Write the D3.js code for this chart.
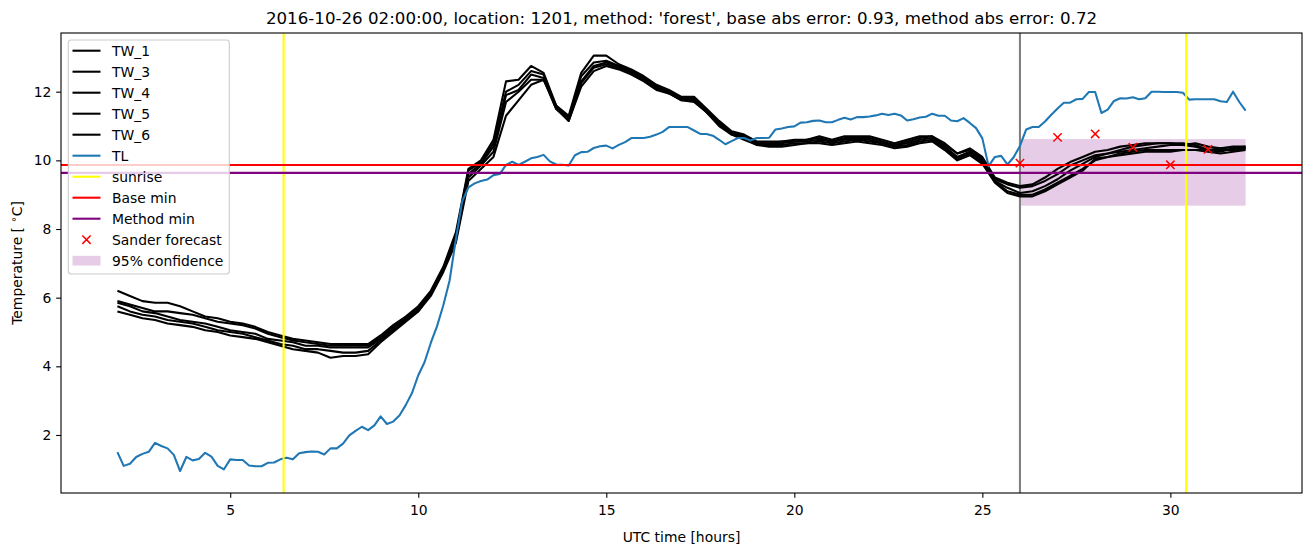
<!DOCTYPE html>
<html><head><meta charset="utf-8">
<script src="https://cdn.jsdelivr.net/npm/d3@7"></script>
<style>body{margin:0;background:#fff} text{font-family:"DejaVu Sans",sans-serif}</style>
</head><body><svg id="c" width="1310" height="547"></svg>
<script>
// ---------- data ----------
const tlStepMinutes = 10;   // TL sampled every 10 min from 02:00
const twStepMinutes = 20;   // TW series sampled every 20 min from 02:00
const startHour = 2;
const tlValues = [
1.5,1.1,1.16,1.36,1.45,1.51,1.77,1.68,1.61,1.42,
0.95,1.36,1.26,1.3,1.48,1.37,1.1,1.0,1.29,1.27,
1.27,1.11,1.09,1.09,1.19,1.2,1.29,1.34,1.29,1.47,
1.5,1.52,1.51,1.43,1.61,1.61,1.75,1.99,2.12,2.24,
2.14,2.28,2.54,2.32,2.39,2.57,2.87,3.22,3.74,4.12,
4.68,5.17,5.78,6.5,7.7,8.8,9.21,9.33,9.4,9.44,
9.57,9.6,9.87,9.96,9.87,9.96,10.06,10.1,10.16,9.97,
9.88,9.87,9.85,10.15,10.24,10.25,10.36,10.41,10.43,10.35,
10.45,10.53,10.65,10.65,10.65,10.69,10.75,10.83,10.97,10.97,
10.97,10.97,10.87,10.77,10.77,10.72,10.6,10.47,10.56,10.65,
10.65,10.58,10.65,10.65,10.66,10.9,10.93,10.97,10.99,11.1,
11.11,11.15,11.16,11.11,11.11,11.18,11.24,11.19,11.26,11.26,
11.28,11.31,11.36,11.32,11.36,11.31,11.16,11.2,11.25,11.27,
11.36,11.3,11.3,11.16,11.14,11.23,11.09,10.94,10.64,9.83,
10.1,10.13,9.88,10.09,10.42,10.9,10.97,10.97,11.13,11.33,
11.51,11.68,11.68,11.78,11.79,11.99,11.99,11.38,11.48,11.73,
11.81,11.8,11.84,11.78,11.81,12.0,12.0,11.99,11.99,11.99,
11.97,11.77,11.78,11.78,11.78,11.78,11.72,11.7,12.0,11.7,11.45];
const tw1 = [
6.2,6.05,5.9,5.85,5.85,5.75,5.6,5.45,5.4,5.3,
5.25,5.15,5.0,4.9,4.8,4.75,4.7,4.65,4.65,4.65,
4.65,4.9,5.2,5.45,5.75,6.2,6.9,7.9,9.75,10.0,
10.6,12.3,12.35,12.75,12.55,11.6,11.3,12.55,13.05,13.05,
12.8,12.65,12.45,12.2,12.05,11.85,11.85,11.5,11.15,10.85,
10.75,10.55,10.55,10.55,10.6,10.6,10.7,10.6,10.7,10.7,
10.7,10.6,10.5,10.6,10.7,10.7,10.5,10.2,10.35,10.1,
9.5,9.35,9.25,9.3,9.5,9.75,9.95,10.1,10.25,10.3,
10.4,10.45,10.5,10.5,10.5,10.5,10.45,10.3,10.25,10.35,10.4];
const tw3 = [
5.9,5.8,5.7,5.6,5.6,5.55,5.5,5.4,5.3,5.25,
5.2,5.1,4.95,4.85,4.75,4.7,4.65,4.6,4.6,4.6,
4.6,4.85,5.15,5.4,5.7,6.15,6.85,7.8,9.7,9.95,
10.5,12.0,12.2,12.6,12.5,11.55,11.25,12.45,12.85,12.9,
12.75,12.6,12.4,12.15,12.0,11.8,11.8,11.45,11.1,10.8,
10.7,10.5,10.5,10.55,10.55,10.6,10.65,10.55,10.65,10.65,
10.65,10.55,10.45,10.55,10.65,10.7,10.45,10.2,10.3,10.05,
9.45,9.3,9.2,9.25,9.4,9.6,9.85,10.0,10.15,10.2,
10.3,10.4,10.45,10.5,10.5,10.45,10.5,10.4,10.35,10.4,10.4];
const tw4 = [
5.85,5.75,5.6,5.55,5.45,5.35,5.3,5.25,5.15,5.05,
5.0,4.95,4.8,4.75,4.7,4.6,4.6,4.55,4.55,4.55,
4.55,4.8,5.1,5.4,5.65,6.1,6.85,7.75,9.6,9.9,
10.4,11.9,12.05,12.5,12.4,11.5,11.2,12.3,12.75,12.85,
12.75,12.6,12.4,12.1,12.0,11.8,11.75,11.45,11.1,10.8,
10.7,10.5,10.5,10.5,10.55,10.55,10.6,10.55,10.6,10.6,
10.6,10.5,10.45,10.5,10.6,10.65,10.4,10.1,10.25,10.0,
9.4,9.2,9.05,9.1,9.25,9.45,9.7,9.9,10.1,10.2,
10.25,10.3,10.35,10.4,10.45,10.45,10.4,10.3,10.35,10.3,10.35];
const tw5 = [
5.75,5.6,5.5,5.45,5.35,5.3,5.25,5.15,5.05,5.0,
4.95,4.85,4.75,4.65,4.6,4.5,4.5,4.45,4.4,4.4,
4.45,4.75,5.05,5.35,5.6,6.1,6.8,7.7,9.5,9.85,
10.25,11.7,12.0,12.35,12.35,11.5,11.15,12.25,12.7,12.8,
12.7,12.55,12.35,12.1,11.95,11.75,11.75,11.4,11.05,10.75,
10.65,10.45,10.45,10.45,10.5,10.5,10.55,10.5,10.55,10.6,
10.55,10.5,10.4,10.45,10.55,10.6,10.35,10.05,10.2,9.95,
9.4,9.1,9.0,9.0,9.15,9.35,9.55,9.75,10.0,10.1,
10.2,10.25,10.3,10.3,10.3,10.3,10.3,10.3,10.3,10.3,10.35];
const tw6 = [
5.6,5.5,5.4,5.35,5.25,5.2,5.15,5.05,5.0,4.9,
4.85,4.8,4.7,4.6,4.5,4.45,4.4,4.25,4.3,4.3,
4.35,4.7,5.0,5.3,5.6,6.05,6.75,7.6,9.4,9.75,
10.1,11.3,11.75,12.2,12.35,11.6,11.15,12.15,12.6,12.75,
12.65,12.5,12.3,12.05,11.95,11.75,11.7,11.4,11.0,10.75,
10.6,10.45,10.4,10.4,10.45,10.5,10.5,10.45,10.5,10.55,
10.5,10.45,10.35,10.4,10.5,10.55,10.3,10.0,10.15,9.9,
9.35,9.05,8.95,8.95,9.1,9.3,9.5,9.7,10.05,10.1,
10.15,10.2,10.25,10.25,10.25,10.3,10.3,10.25,10.2,10.25,10.3];
const twNames = ["TW_1","TW_3","TW_4","TW_5","TW_6"];
const forecastHours = [26,27,28,29,30,31];
const forecastValues = [9.92,10.67,10.77,10.38,9.87,10.32];
const sunriseHours = [6.42,30.42];
const forecastStartHour = 26;
const baseMin = 9.866;
const methodMin = 9.635;
const confLow = 8.68, confHigh = 10.62, confStart = 26, confEnd = 32;
const xTicks = [5,10,15,20,25,30];
const yTicks = [2,4,6,8,10,12];
const xDomain = [0.5,33.5];
const yDomain = [0.31,13.71];
const titleText = "2016-10-26 02:00:00, location: 1201, method: 'forest', base abs error: 0.93, method abs error: 0.72";

// ---------- layout ----------
const svg = d3.select("#c");
const L = 61, R = 1302, T = 33, B = 493;
const x = d3.scaleLinear().domain(xDomain).range([L, R]);
const y = d3.scaleLinear().domain(yDomain).range([B, T]);
const tlHours = tlValues.map((_, k) => startHour + k * tlStepMinutes / 60);
const twHours = tw1.map((_, i) => startHour + i * twStepMinutes / 60);
const LW = 2.08;

svg.append("rect").attr("width",1310).attr("height",547).attr("fill","#fff");
svg.append("clipPath").attr("id","clip").append("rect")
  .attr("x",L).attr("y",T).attr("width",R-L).attr("height",B-T);
const g = svg.append("g").attr("clip-path","url(#clip)");

// confidence band (lowest zorder)
g.append("rect").attr("x",x(confStart)).attr("width",x(confEnd)-x(confStart))
  .attr("y",y(confHigh)).attr("height",y(confLow)-y(confHigh))
  .attr("fill","purple").attr("fill-opacity",0.2);

// forecast start
g.append("line").attr("x1",x(forecastStartHour)).attr("x2",x(forecastStartHour))
  .attr("y1",T).attr("y2",B).attr("stroke","grey").attr("stroke-width",LW);

const line = d3.line().x(d=>x(d[0])).y(d=>y(d[1]));
[tw1,tw3,tw4,tw5,tw6].forEach(s=>{
  g.append("path").attr("d", line(s.map((v,i)=>[twHours[i],v])))
   .attr("fill","none").attr("stroke","#000").attr("stroke-width",LW).attr("stroke-linejoin","round");
});
g.append("path").attr("d", line(tlValues.map((v,k)=>[tlHours[k],v])))
  .attr("fill","none").attr("stroke","#1f77b4").attr("stroke-width",LW).attr("stroke-linejoin","round");

sunriseHours.forEach(h=>{
  g.append("line").attr("x1",x(h)).attr("x2",x(h)).attr("y1",T).attr("y2",B)
   .attr("stroke","yellow").attr("stroke-width",LW);
});
g.append("line").attr("x1",L).attr("x2",R).attr("y1",y(baseMin)).attr("y2",y(baseMin))
  .attr("stroke","red").attr("stroke-width",LW);
g.append("line").attr("x1",L).attr("x2",R).attr("y1",y(methodMin)).attr("y2",y(methodMin))
  .attr("stroke","purple").attr("stroke-width",LW);

function cross(sel, cx, cy){
  const s = 4.17;
  sel.append("path").attr("d",`M${cx-s},${cy-s}L${cx+s},${cy+s}M${cx-s},${cy+s}L${cx+s},${cy-s}`)
    .attr("stroke","red").attr("stroke-width",1.5).attr("fill","none");
}
forecastHours.forEach((h,i)=>cross(g, x(h), y(forecastValues[i])));

// ---------- axes ----------
const fs = 13.9;
const xa = svg.append("g").attr("transform",`translate(0,${B})`)
  .call(d3.axisBottom(x).tickValues(xTicks).tickSize(4.86).tickSizeOuter(0).tickFormat(d3.format("d")));
xa.select(".domain").remove();
xa.selectAll("line").attr("stroke","#000").attr("stroke-width",1.1);
xa.selectAll("text").attr("y",21.5).attr("dy",null).attr("fill","#000")
  .style("font-size",fs+"px").style("font-family","DejaVu Sans");
const ya = svg.append("g").attr("transform",`translate(${L},0)`)
  .call(d3.axisLeft(y).tickValues(yTicks).tickSize(4.86).tickSizeOuter(0).tickFormat(d3.format("d")));
ya.select(".domain").remove();
ya.selectAll("line").attr("stroke","#000").attr("stroke-width",1.1);
ya.selectAll("text").attr("x",-9.7).attr("fill","#000")
  .style("font-size",fs+"px").style("font-family","DejaVu Sans");

svg.append("rect").attr("x",L).attr("y",T).attr("width",R-L).attr("height",B-T)
  .attr("fill","none").attr("stroke","#000").attr("stroke-width",1.1);

svg.append("text").attr("x",(L+R)/2).attr("y",23.5).attr("text-anchor","middle")
  .style("font-size","16.67px").text(titleText);
svg.append("text").attr("x",(L+R)/2).attr("y",542).attr("text-anchor","middle")
  .style("font-size",fs+"px").text("UTC time [hours]");
const yl = svg.append("text").attr("transform",`translate(22,${(T+B)/2}) rotate(-90)`)
  .attr("text-anchor","middle").style("font-size",fs+"px");
yl.append("tspan").text("Temperature [ ");
yl.append("tspan").attr("dy",-5).style("font-size","10px").text("∘");
yl.append("tspan").attr("dy",5).text("C]");

// ---------- legend ----------
const lg = svg.append("g");
lg.append("rect").attr("x",68.3).attr("y",40).attr("width",161).attr("height",234)
  .attr("rx",3).attr("fill","#fff").attr("fill-opacity",0.8)
  .attr("stroke","#cccccc").attr("stroke-width",1.1);
const entries = twNames.map(n=>({label:n,type:"line",color:"#000"})).concat([
  {label:"TL",type:"line",color:"#1f77b4"},
  {label:"sunrise",type:"line",color:"yellow"},
  {label:"Base min",type:"line",color:"red"},
  {label:"Method min",type:"line",color:"purple"},
  {label:"Sander forecast",type:"marker",color:"red"},
  {label:"95% confidence",type:"patch",color:"purple"}
]);
entries.forEach((e,i)=>{
  const cy = 50.7 + i*21;
  const x0 = 72.5, x1 = 100.5;
  if (e.type==="line") {
    lg.append("line").attr("x1",x0).attr("x2",x1).attr("y1",cy).attr("y2",cy)
      .attr("stroke",e.color).attr("stroke-width",LW);
  } else if (e.type==="marker") {
    cross(lg,(x0+x1)/2,cy);
  } else {
    lg.append("rect").attr("x",x0).attr("y",cy-4.86).attr("width",x1-x0).attr("height",9.72)
      .attr("fill",e.color).attr("fill-opacity",0.2);
  }
  lg.append("text").attr("x",112).attr("y",cy+5).style("font-size",fs+"px").text(e.label);
});
</script></body></html>
